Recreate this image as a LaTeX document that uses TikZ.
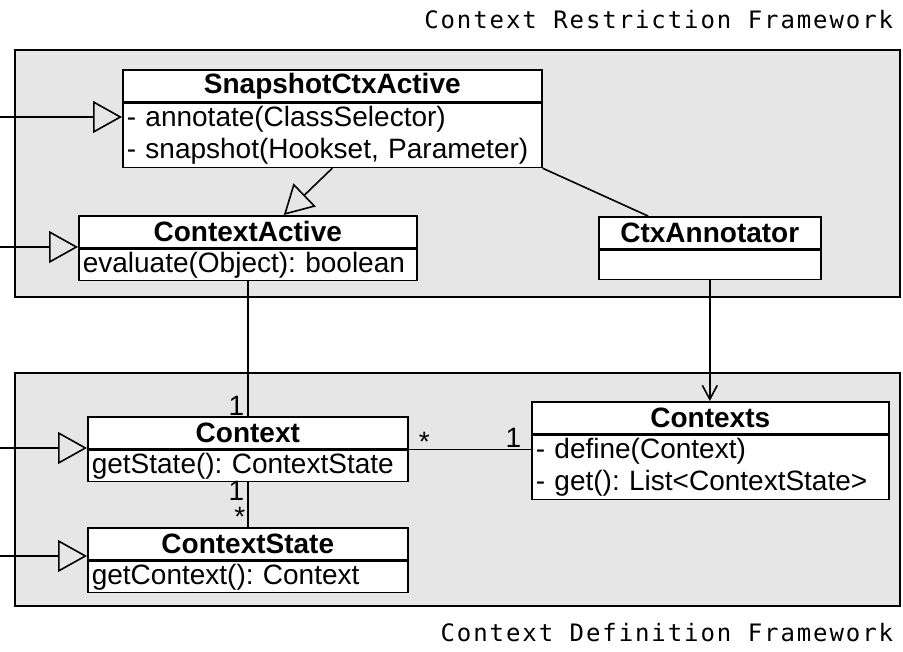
\documentclass[tikz,border=0pt]{standalone}
\usepackage{fontspec}
\setmainfont{Liberation Sans}
\newfontfamily\framefont[LetterSpace=8]{DejaVu Sans Mono}
\usepackage{tikz}
\usetikzlibrary{arrows.meta,positioning}
\definecolor{framegray}{HTML}{E6E6E6}
\tikzset{
    clshead/.style={draw, fill=white, anchor=north west, inner sep=0pt, minimum width=#1, minimum height=32pt, font=\bfseries\fontsize{28}{32}\selectfont},
    clsbody/.style={draw, fill=white, anchor=north west, align=left, inner xsep=4pt, inner ysep=0pt, text width=#1, font=\fontsize{28}{32}\selectfont},
    generalize/.style={-{Triangle[open, length=29pt, width=32pt]}},
    navigate/.style={-{Straight Barb[length=14pt, width=15pt]}},
    mult/.style={inner sep=0pt, font=\fontsize{28}{32}\selectfont},
    frametitle/.style={inner sep=0pt, anchor=base east, font=\framefont\fontsize{24}{28}\selectfont}}

\begin{document}
\frenchspacing
\begin{tikzpicture}[x=1pt, y=-1pt, line width=1.6pt]
\useasboundingbox (0,0) rectangle (903,652);

%Frames
\draw [fill=framegray](15,50) rectangle (900,297);
\draw [fill=framegray](15,373) rectangle (900,606);
\node[frametitle] (restrtitle) at (894,29) {Context Restriction Framework};
\node[frametitle] (deftitle) at (894,641) {Context Definition Framework};

%Restriction classes
\node[clshead=419pt] (snaphead) at (122,69) {SnapshotCtxActive};
\node[clsbody=411pt, minimum height=64pt] (snap) at (snaphead.south west) {- annotate(ClassSelector)\\- snapshot(Hookset, Parameter)};
\node[clshead=338pt] (acthead) at (78,215) {ContextActive};
\node[clsbody=330pt, minimum height=31pt] (act) at (acthead.south west) {evaluate(Object): boolean};
\node[clshead=222pt] (annhead) at (598,216) {CtxAnnotator};
\node[clsbody=214pt, minimum height=29pt] (ann) at (annhead.south west) {};

%Definition classes
\node[clshead=320pt] (ctxhead) at (87,416) {Context};
\node[clsbody=312pt, minimum height=31pt] (ctx) at (ctxhead.south west) {getState(): ContextState};
\node[clshead=320pt, below=45pt of ctx] (statehead) {ContextState};
\node[clsbody=312pt, minimum height=31pt] (state) at (statehead.south west) {getContext(): Context};
\node[clshead=357pt] (ctxshead) at (531,401) {Contexts};
\node[clsbody=349pt, minimum height=64pt] (ctxs) at (ctxshead.south west) {- define(Context)\\- get(): List<ContextState>};

%Incoming generalizations
\coordinate (snapin) at (0,117);
\coordinate (actin) at (0,247);
\coordinate (ctxin) at (0,448);
\coordinate (statein) at (0,556);
\draw [generalize](snapin) -- (snapin -| snap.west);
\draw [generalize](actin) -- (actin -| act.west);
\draw [generalize](ctxin) -- (ctxin -| ctx.west);
\draw [generalize](statein) -- (statein -| state.west);

%Connectors
\draw [generalize](snap.south) -- ([xshift=36pt]acthead.north);
\draw (snap.south east) -- ([xshift=50pt]annhead.north west);
\draw [navigate](ann.south) -- (ann.south |- ctxshead.north);
\draw (act.south) -- (ctxhead.north);
\draw (ctx.south) -- (statehead.north);
\draw (ctxhead.south east) -- (ctxhead.south east -| ctxs.west);

%Multiplicities
\node[mult, anchor=base east] (multact) at (245,416) {1};
\node[mult, anchor=base east] (multctx) at (245,500) {1};
\node[mult, anchor=base east] (multstate) at (246,526) {*};
\node[mult, anchor=base west] (multmany) at (418,452) {*};
\node[mult, anchor=base east] (multctxs) at (522,447) {1};
\end{tikzpicture}
\end{document}
